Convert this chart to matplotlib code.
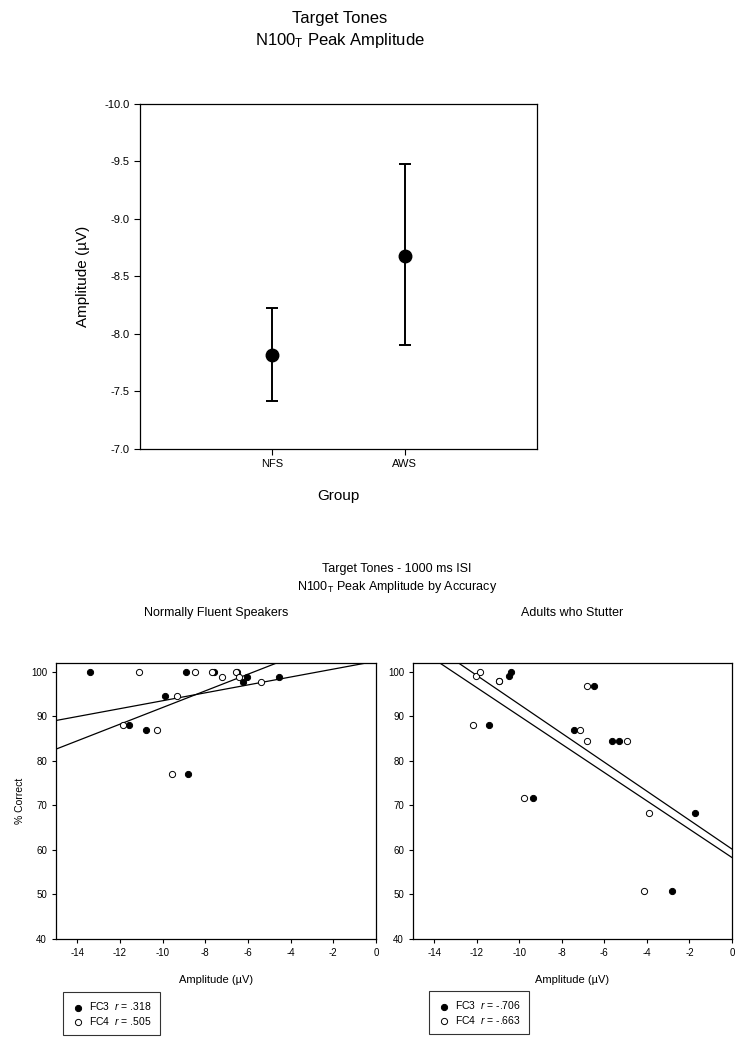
import numpy as np
import matplotlib
matplotlib.use('Agg')
import matplotlib.pyplot as plt

plt.rcParams['font.family'] = ['Liberation Sans', 'DejaVu Sans']
plt.rcParams['mathtext.fontset'] = 'custom'
plt.rcParams['mathtext.rm'] = 'Liberation Sans'
plt.rcParams['mathtext.it'] = 'Liberation Sans:italic'
plt.rcParams['axes.unicode_minus'] = False

# --- top chart data ---
groups = ['NFS', 'AWS']
group_mean = [-7.82, -8.68]
group_low = [-7.41, -7.88]
group_high = [-8.22, -9.46]

# --- scatter data (amplitude uV, % correct) ---
nfs_fc3_x = [-13.42, -11.58, -10.76, -9.89, -8.93, -8.79, -7.60, -6.50, -6.23, -6.04, -4.54]
nfs_fc3_y = [100, 88.0, 86.9, 94.5, 100, 77.0, 100, 100, 97.8, 98.9, 98.9]
nfs_fc4_x = [-11.84, -11.12, -10.26, -9.54, -9.35, -8.49, -7.71, -7.21, -6.54, -6.43, -5.41]
nfs_fc4_y = [88.0, 100, 86.9, 77.0, 94.5, 100, 100, 98.9, 100, 98.9, 97.8]

aws_fc3_x = [-11.43, -10.95, -10.50, -10.41, -9.34, -7.45, -6.48, -5.65, -5.32, -2.81, -1.74]
aws_fc3_y = [88.0, 97.9, 99.0, 100, 71.6, 87.0, 96.8, 84.4, 84.4, 50.7, 68.3]
aws_fc4_x = [-12.20, -12.02, -11.83, -10.97, -9.78, -7.16, -6.81, -6.81, -4.93, -4.16, -3.92]
aws_fc4_y = [88.0, 99.0, 100, 97.9, 71.6, 87.0, 96.8, 84.4, 84.4, 50.7, 68.3]

# regression lines (slope, intercept)
nfs_fit = [(0.888, 102.4), (1.87, 110.7)]
aws_fit = [(-3.25, 60.2), (-3.18, 58.3)]

nfs_r = ['.318', '.505']
aws_r = ['-.706', '-.663']

fig = plt.figure(figsize=(7.49, 10.5), dpi=100)
fig.patch.set_facecolor('white')

# ---------------- top chart ----------------
ax = fig.add_axes([0.1869, 0.5724, 0.530, 0.3286])
xpos = np.arange(1, len(groups) + 1)
mean = np.array(group_mean)
yerr = [np.abs(np.array(group_low) - mean), np.abs(mean - np.array(group_high))]
ax.errorbar(xpos, mean, yerr=yerr, fmt='o', color='black', markersize=9,
            capsize=4, elinewidth=1.4, capthick=1.4)
ax.set_xlim(0, 3)
ax.set_ylim(-7.0, -10.0)
yt = [-7.0, -7.5, -8.0, -8.5, -9.0, -9.5, -10.0]
ax.set_yticks(yt)
ax.set_yticklabels(['%.1f' % v for v in yt])
ax.set_xticks(xpos)
ax.set_xticklabels(groups)
ax.tick_params(direction='out', length=4, labelsize=8, top=False, right=False)
ax.set_ylabel('Amplitude (\u00b5V)', fontsize=11, labelpad=10)
ax.set_xlabel('Group', fontsize=11, labelpad=14)
for s in ax.spines.values():
    s.set_linewidth(0.9)
fig.text(0.454, 1 - 18 / 1050, 'Target Tones', ha='center', va='center', fontsize=12)
fig.text(0.454, 1 - 41 / 1050, 'N100$_\\mathrm{T}$ Peak Amplitude', ha='center', va='center', fontsize=12)

# ---------------- bottom charts ----------------
fig.text(397 / 749, 1 - 569 / 1050, 'Target Tones - 1000 ms ISI', ha='center', va='center', fontsize=9)
fig.text(397 / 749, 1 - 587 / 1050, 'N100$_\\mathrm{T}$ Peak Amplitude by Accuracy', ha='center', va='center', fontsize=9)


def scatter_panel(rect, title, title_x, fc3x, fc3y, fc4x, fc4y, fits, rvals, leg_anchor, ylabel):
    a = fig.add_axes(rect)
    xx = np.array([-15, 0])
    for slope, icpt in fits:
        a.plot(xx, slope * xx + icpt, color='black', linewidth=0.9, zorder=1)
    h1 = a.scatter(fc3x, fc3y, s=20, facecolor='black', edgecolor='black', linewidth=0.7, zorder=3)
    h2 = a.scatter(fc4x, fc4y, s=20, facecolor='white', edgecolor='black', linewidth=0.7, zorder=3)
    a.set_xlim(-15, 0)
    a.set_ylim(40, 102)
    a.set_xticks(np.arange(-14, 1, 2))
    a.set_yticks(np.arange(40, 101, 10))
    a.tick_params(direction='out', length=3, labelsize=7, top=False, right=False)
    a.set_xlabel('Amplitude (\u00b5V)', fontsize=8, labelpad=12)
    if ylabel:
        a.set_ylabel('% Correct', fontsize=7.5, labelpad=4)
    fig.text(title_x, 1 - 613 / 1050, title, ha='center', va='center', fontsize=9)
    for s in a.spines.values():
        s.set_linewidth(0.9)
    leg = fig.legend([h1, h2],
                     ['FC3  $r$ = %s' % rvals[0], 'FC4  $r$ = %s' % rvals[1]],
                     loc='upper left', bbox_to_anchor=leg_anchor,
                     fontsize=7.5, frameon=True, fancybox=False, edgecolor='black',
                     handletextpad=0.5, borderpad=0.8, handlelength=1.2,
                     labelspacing=0.25, borderaxespad=0)
    leg.get_frame().set_linewidth(0.8)
    return a


scatter_panel([0.0748, 0.1057, 0.4272, 0.2629], 'Normally Fluent Speakers', 216 / 749,
              nfs_fc3_x, nfs_fc3_y, nfs_fc4_x, nfs_fc4_y, nfs_fit, nfs_r,
              (63 / 749, 1 - 992 / 1050), True)
scatter_panel([0.5514, 0.1057, 0.4259, 0.2629], 'Adults who Stutter', 572 / 749,
              aws_fc3_x, aws_fc3_y, aws_fc4_x, aws_fc4_y, aws_fit, aws_r,
              (429 / 749, 1 - 991 / 1050), False)

fig.savefig('out.png', dpi=100)
